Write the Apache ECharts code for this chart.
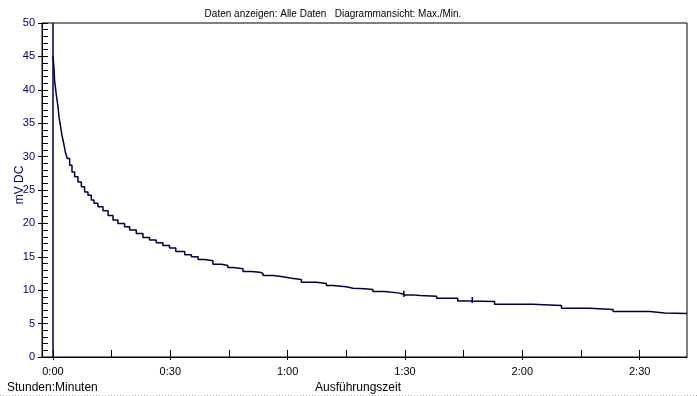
<!DOCTYPE html>
<html>
<head>
<meta charset="utf-8">
<script src="https://cdn.jsdelivr.net/npm/echarts@6/dist/echarts.min.js"></script>
<style>
html,body{margin:0;padding:0;background:#fff;}
#c{width:697px;height:396px;}
</style>
</head>
<body>
<div id="c"></div>
<script>
// Time in minutes since start, value in mV DC (step readings)
const timesMin = [0, 0.3, 0.4, 0.5, 0.87, 1.28, 1.53, 1.89, 2.3, 2.74, 3.17, 3.68, 4.27, 4.86, 5.55, 6.4, 7.26, 8.1, 8.95, 9.8,
  10.5, 11.5, 12.8, 14.1, 15.35, 16.6, 18.3, 19.6, 21.3, 23.0, 24.7, 26.4, 28.1, 29.8,
  31.4, 33.7, 35.4, 37.1, 38.8, 40.9, 43.1, 44.7, 46.0, 48.6, 50.7, 52.9, 53.7,
  56.3, 58.8, 61.0, 63.5, 67.3, 69.9, 71.6, 75.0, 76.7, 79.7, 81.8, 84.8, 88.2,
  89.7, 89.7, 89.7, 89.9, 92.0, 93.8, 98.1, 103.5,
  107.2, 107.2, 107.2, 107.3, 112.9, 122.6, 130.0, 137.2, 143.2, 152.6, 156.4, 162.1];
const valuesMv = [45.0, 43.0, 41.5, 41.0, 39.2, 37.5, 36.0, 34.7, 33.2, 32.0, 30.7, 29.7, 28.7, 27.7, 27.0, 26.2, 25.5, 24.7, 24.2, 23.5,
  23.0, 22.5, 21.9, 21.2, 20.5, 20.0, 19.5, 19.0, 18.5, 17.9, 17.5, 17.1, 16.7, 16.3,
  15.8, 15.3, 15.0, 14.6, 14.4, 13.9, 13.7, 13.4, 13.2, 12.8, 12.7, 12.5, 12.2,
  12.0, 11.8, 11.6, 11.2, 11.0, 10.7, 10.5, 10.3, 10.2, 10.1, 9.8, 9.6, 9.4,
  9.9, 9.0, 9.3, 9.3, 9.2, 9.1, 8.8, 8.4,
  9.0, 8.1, 8.4, 8.3, 7.9, 7.7, 7.3, 7.1, 6.8, 6.6, 6.5, 6.5];
const xTickValues = [0, 15, 30, 45, 60, 75, 90, 105, 120, 135, 150];
const xLabelValues = [0, 30, 60, 90, 120, 150];
const yMin = 0, yMax = 50, yStep = 5;
const xMin = -2.8, xMax = 162.1;

const FONT = "'Liberation Sans', Arial, sans-serif";
const seriesData = timesMin.map((t, i) => [t, valuesMv[i]]);
const fmt = v => { const h = Math.floor(v / 60), m = Math.round(v % 60); return h + ':' + (m < 10 ? '0' : '') + m; };

const chart = echarts.init(document.getElementById('c'));
chart.setOption({
  animation: false,
  backgroundColor: '#fff',
  textStyle: { fontFamily: FONT },
  grid: { left: 42, right: 10, top: 23, bottom: 39, containLabel: false, outerBoundsMode: 'none',
    show: true, borderColor: '#000', borderWidth: 1, backgroundColor: 'transparent' },
  xAxis: [{
    type: 'value', min: xMin, max: xMax, position: 'bottom', scale: true,
    axisLine: { onZero: false, lineStyle: { color: '#000', width: 1 } },
    axisTick: { inside: true, length: 7, customValues: xTickValues, lineStyle: { color: '#000' } },
    axisLabel: { customValues: xLabelValues, formatter: fmt, color: '#000', fontSize: 11, fontFamily: FONT, margin: 9 },
    splitLine: { show: false }
  }, {
    type: 'value', min: xMin, max: xMax, position: 'bottom', scale: true,
    axisLine: { show: false, onZero: false },
    axisTick: { inside: false, length: 3, customValues: xLabelValues, lineStyle: { color: '#000' } },
    axisLabel: { show: false },
    splitLine: { show: false }
  }],
  yAxis: [{
    type: 'value', min: yMin, max: yMax, interval: yStep, position: 'left',
    axisLine: { show: true, onZero: false, lineStyle: { color: '#000', width: 1 } },
    axisTick: { show: true, inside: false, length: 4, lineStyle: { color: '#000' } },
    axisLabel: { color: '#000060', fontSize: 11, fontFamily: FONT, margin: 7 },
    splitLine: { show: false }
  }, {
    type: 'value', min: yMin, max: yMax, interval: yStep, position: 'left', offset: 0,
    axisLine: { show: false, onZero: false },
    axisTick: { show: true, inside: true, length: 6, lineStyle: { color: '#000' } },
    minorTick: { show: true, splitNumber: 5, length: 6, lineStyle: { color: '#000' } },
    axisLabel: { show: false },
    splitLine: { show: false }
  }],
  graphic: [
    { type: 'text', x: 333, y: 14, style: { text: 'Daten anzeigen: Alle Daten   Diagrammansicht: Max./Min.', font: '10px ' + FONT, fill: '#000', textAlign: 'center', textVerticalAlign: 'middle' } },
    { type: 'text', x: 20, y: 185, rotation: Math.PI / 2, style: { text: 'mV DC', font: '12px ' + FONT, fill: '#000060', textAlign: 'center', textVerticalAlign: 'middle' } },
    { type: 'text', x: 7, y: 388, style: { text: 'Stunden:Minuten', font: '12px ' + FONT, fill: '#000', textAlign: 'left', textVerticalAlign: 'middle' } },
    { type: 'text', x: 358, y: 388, style: { text: 'Ausführungszeit', font: '12px ' + FONT, fill: '#000', textAlign: 'center', textVerticalAlign: 'middle' } },
    { type: 'line', shape: { x1: 0, y1: 395.5, x2: 697, y2: 395.5 }, style: { stroke: '#aaaaaa', lineWidth: 1, lineDash: [1, 2] } }
  ],
  series: [{
    type: 'line', xAxisIndex: 0, yAxisIndex: 0, data: seriesData, step: 'end',
    showSymbol: false, symbol: 'none',
    lineStyle: { color: '#00003c', width: 1.5 },
    markLine: {
      silent: true, symbol: 'none', label: { show: false },
      lineStyle: { color: '#000040', width: 1.5, type: 'solid' },
      data: [{ xAxis: 0 }]
    }
  }]
});
</script>
</body>
</html>
